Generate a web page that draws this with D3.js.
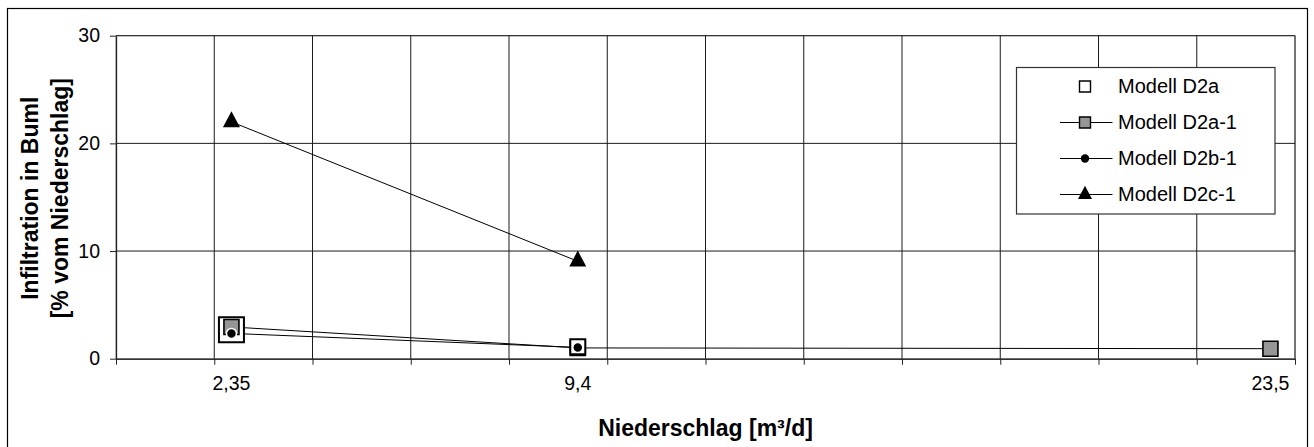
<!DOCTYPE html>
<html>
<head>
<meta charset="utf-8">
<script src="https://cdn.jsdelivr.net/npm/d3@7"></script>
<style>
  html, body { margin: 0; padding: 0; background: #fff; }
  svg { display: block; font-family: "Liberation Sans", Arial, sans-serif; }
</style>
</head>
<body>
<svg id="chart" width="1314" height="447"></svg>
<script>
// Niederschlag (x) values and infiltration results per model
const xD2a   = [2.35, 9.4];
const yD2a   = [2.7, 1.1];
const xD2a1  = [2.35, 9.4, 23.5];
const yD2a1  = [2.95, 1.0, 0.93];
const xD2b1  = [2.35, 9.4];
const yD2b1  = [2.35, 1.05];
const xD2c1  = [2.35, 9.4];
const yD2c1  = [22.0, 9.05];

const xTickLabelValues = [2.35, 9.4, 23.5];
const xTickLabels      = ["2,35", "9,4", "23,5"];
const yTickValues      = [0, 10, 20, 30];
const seriesNames      = ["Modell D2a", "Modell D2a-1", "Modell D2b-1", "Modell D2c-1"];

const svg = d3.select("#chart");
const plot = { left: 116, right: 1295, top: 35.7, bottom: 358.7 };

const x = d3.scaleLinear().domain([0, 24]).range([plot.left, plot.right]);
const y = d3.scaleLinear().domain([0, 30]).range([plot.bottom, plot.top]);

// outer chart frame
svg.append("rect")
  .attr("x", 7.5).attr("y", 8.5)
  .attr("width", 1300).attr("height", 450)
  .attr("fill", "#fff").attr("stroke", "#000").attr("stroke-width", 1.2);

// plot area border (light)
svg.append("rect")
  .attr("x", plot.left).attr("y", plot.top)
  .attr("width", plot.right - plot.left).attr("height", plot.bottom - plot.top)
  .attr("fill", "none").attr("stroke", "#9a9a9a").attr("stroke-width", 1);

// grid lines
const grid = svg.append("g");
grid.selectAll("line.v").data(d3.range(2, 24.01, 2)).join("line")
  .attr("x1", d => x(d)).attr("x2", d => x(d))
  .attr("y1", plot.top).attr("y2", plot.bottom)
  .attr("stroke", "#1a1a1a").attr("stroke-width", 1);
grid.selectAll("line.h").data(yTickValues.filter(v => v > 0)).join("line")
  .attr("x1", plot.left).attr("x2", plot.right)
  .attr("y1", d => y(d)).attr("y2", d => y(d))
  .attr("stroke", "#1a1a1a").attr("stroke-width", 1);

// axes: ticks every 2 on x (unlabelled), labels at the measured rainfall values
const xAxis = d3.axisBottom(x).tickValues(d3.range(0, 24.01, 2))
  .tickFormat("").tickSizeOuter(0).tickSizeInner(6);
const gx = svg.append("g").attr("transform", `translate(0,${plot.bottom})`).call(xAxis);
gx.select(".domain").attr("stroke", "#333").attr("stroke-width", 1.6);
gx.selectAll(".tick line").attr("stroke", "#222");

const yAxis = d3.axisLeft(y).tickValues(yTickValues).tickFormat(d3.format("d"))
  .tickSizeOuter(0).tickSizeInner(6).tickPadding(10);
const gy = svg.append("g").attr("transform", `translate(${plot.left},0)`).call(yAxis);
gy.select(".domain").attr("stroke", "#222").attr("stroke-width", 1.3);
gy.selectAll(".tick line").attr("stroke", "#222");
gy.selectAll(".tick text").attr("font-size", "19.5px").attr("fill", "#000")
  .attr("font-family", "Liberation Sans, Arial, sans-serif");

svg.append("g").selectAll("text").data(xTickLabelValues).join("text")
  .attr("x", d => x(d)).attr("y", 390)
  .attr("text-anchor", "middle").attr("font-size", "19.5px")
  .text((d, i) => xTickLabels[i]);

// axis titles
svg.append("text")
  .attr("x", (plot.left + plot.right) / 2).attr("y", 436)
  .attr("text-anchor", "middle").attr("font-weight", "bold").attr("font-size", "23px")
  .text("Niederschlag [m³/d]");

const yTitle = svg.append("g");
[["Infiltration in Buml", 38], ["[% vom Niederschlag]", 68]].forEach(([t, bx]) => {
  yTitle.append("text")
    .attr("transform", `translate(${bx},${(plot.top + plot.bottom) / 2 + 1}) rotate(-90)`)
    .attr("text-anchor", "middle").attr("font-weight", "bold").attr("font-size", "23px")
    .text(t);
});

// marker shapes
const triangleShape = {
  draw(ctx, size) {
    const w = size, h = size * 0.94;
    ctx.moveTo(0, -2 * h / 3);
    ctx.lineTo(w / 2, h / 3);
    ctx.lineTo(-w / 2, h / 3);
    ctx.closePath();
  }
};
const squareShape = {
  draw(ctx, size) { ctx.rect(-size / 2, -size / 2, size, size); }
};
const shapePath = (shape, s) => d3.symbol().type(shape).size(s)();

const line = d3.line().x(d => x(d[0])).y(d => y(d[1]));
const zipped = (xs, ys) => xs.map((v, i) => [v, ys[i]]);

const ptsD2a  = zipped(xD2a, yD2a);
const ptsD2a1 = zipped(xD2a1, yD2a1);
const ptsD2b1 = zipped(xD2b1, yD2b1);
const ptsD2c1 = zipped(xD2c1, yD2c1);

const marks = svg.append("g");

// connecting lines
[ptsD2a1, ptsD2b1, ptsD2c1].forEach(p => {
  marks.append("path").attr("d", line(p))
    .attr("fill", "none").attr("stroke", "#000").attr("stroke-width", 1);
});

// D2a: open squares (large at the first point, drawn beneath D2a-1)
const d2aStyle = [{ size: 25, above: false }, { size: 15, above: true }];
const drawD2a = (above) => {
  marks.selectAll(null).data(ptsD2a.filter((p, i) => d2aStyle[i].above === above)).join("path")
    .attr("transform", p => `translate(${x(p[0])},${y(p[1])})`)
    .attr("d", (p) => shapePath(squareShape, d2aStyle[ptsD2a.indexOf(p)].size))
    .attr("fill", "#fff").attr("stroke", "#000").attr("stroke-width", 2);
};
drawD2a(false);

// D2a-1: grey squares
marks.selectAll(null).data(ptsD2a1).join("path")
  .attr("transform", p => `translate(${x(p[0])},${y(p[1])})`)
  .attr("d", shapePath(squareShape, 15))
  .attr("fill", "#969696").attr("stroke", "#000").attr("stroke-width", 1.6);

drawD2a(true);

// D2b-1: black dots
marks.selectAll(null).data(ptsD2b1).join("circle")
  .attr("cx", p => x(p[0])).attr("cy", p => y(p[1])).attr("r", 5)
  .attr("fill", "#000").attr("stroke", "#fff").attr("stroke-width", 1.5);

// D2c-1: black triangles
marks.selectAll(null).data(ptsD2c1).join("path")
  .attr("transform", p => `translate(${x(p[0])},${y(p[1])})`)
  .attr("d", shapePath(triangleShape, 17))
  .attr("fill", "#000");

// legend
const lg = svg.append("g");
lg.append("rect").attr("x", 1016.5).attr("y", 67.5).attr("width", 258.5).attr("height", 146.5)
  .attr("fill", "#fff").attr("stroke", "#333").attr("stroke-width", 1.2);
const rowY = [86.5, 122.5, 158.5, 194.5];
const legendMarker = [
  g => g.append("path").attr("d", shapePath(squareShape, 11)).attr("fill", "#fff").attr("stroke", "#000").attr("stroke-width", 1.4),
  g => g.append("path").attr("d", shapePath(squareShape, 11)).attr("fill", "#969696").attr("stroke", "#000").attr("stroke-width", 1.4),
  g => g.append("circle").attr("r", 4.2).attr("fill", "#000"),
  g => g.append("path").attr("d", shapePath(triangleShape, 14)).attr("fill", "#000")
];
seriesNames.forEach((name, i) => {
  const row = lg.append("g").attr("transform", `translate(0,${rowY[i]})`);
  if (i > 0) {
    row.append("line").attr("x1", 1060).attr("x2", 1112.5).attr("y1", 0).attr("y2", 0)
      .attr("stroke", "#000").attr("stroke-width", 1);
  }
  legendMarker[i](row.append("g").attr("transform", "translate(1085,0)"));
  row.append("text").attr("x", 1118).attr("y", 6.5).attr("font-size", "20px").text(name);
});
</script>
</body>
</html>
